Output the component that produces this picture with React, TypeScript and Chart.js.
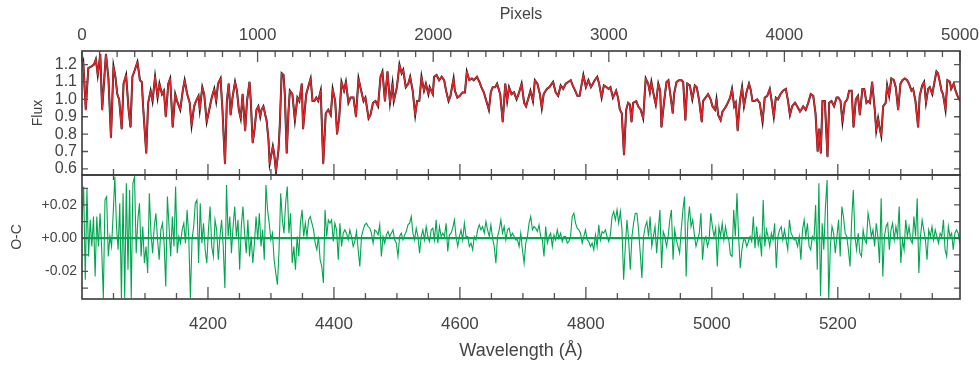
import React, { useEffect, useRef } from 'react';
import { Chart, registerables } from 'chart.js';

Chart.register(...registerables);

// ---------- Data ----------
// Flux spectrum (model in red drawn over the observed black spectrum)
const FLUX_WAVELENGTH = [
  4000, 4002, 4006, 4010, 4015, 4019, 4022, 4025, 4029, 4032, 4038, 4042, 4046, 4050, 4053, 4056, 4059, 4063, 4066, 4070,
  4074, 4077, 4080, 4084, 4088, 4092, 4095, 4097, 4102, 4105, 4109, 4112, 4116, 4120, 4123, 4127, 4130, 4133, 4137, 4140,
  4144, 4148, 4151, 4156, 4160, 4163, 4167, 4171, 4174, 4178, 4181, 4185, 4187, 4191, 4194, 4198, 4202, 4206, 4210, 4213,
  4216, 4220, 4223, 4227, 4230, 4233, 4236, 4239, 4243, 4246, 4249, 4252, 4255, 4259, 4262, 4266, 4268, 4271, 4274, 4277,
  4280, 4283, 4285, 4288, 4291, 4293, 4296, 4298, 4303, 4305, 4308, 4312, 4314, 4317, 4320, 4322, 4325, 4328, 4330, 4334,
  4338, 4342, 4345, 4349, 4351, 4356, 4359, 4363, 4366, 4369, 4372, 4375, 4379, 4383, 4387, 4391, 4395, 4398, 4402, 4405,
  4408.5, 4412, 4416, 4419, 4423, 4426.5, 4431, 4435, 4439, 4442, 4447, 4450, 4455, 4458, 4462, 4466, 4470, 4474, 4477, 4481,
  4485, 4489, 4493, 4495, 4500, 4504, 4507.5, 4510, 4514, 4518, 4521, 4525, 4529, 4532, 4535.5, 4539, 4543, 4546, 4550, 4552,
  4557, 4559, 4563, 4567, 4571, 4575, 4578, 4582, 4585, 4590, 4592, 4596, 4600, 4604, 4608, 4611, 4615, 4619, 4622, 4627,
  4631, 4634, 4638, 4642, 4646, 4649, 4652, 4656, 4659, 4664, 4668, 4672, 4675, 4678, 4682, 4686, 4690, 4694, 4698, 4702,
  4705, 4709, 4712, 4716, 4719, 4723, 4727, 4730, 4733, 4738, 4742, 4746, 4748, 4752, 4756, 4760, 4764, 4768, 4772, 4776,
  4779, 4783, 4786.5, 4790, 4793, 4796, 4800, 4804, 4808, 4811, 4814, 4818, 4821, 4825, 4828.6, 4833, 4836, 4839, 4843, 4848,
  4851, 4854, 4857, 4860.5, 4864, 4867, 4870, 4872.5, 4875, 4880, 4883, 4887, 4891, 4895, 4899, 4901.6, 4904, 4908, 4911, 4915,
  4918, 4920, 4924, 4928, 4931, 4934.4, 4938, 4940, 4944, 4948, 4952, 4954.5, 4958, 4961, 4965, 4969, 4973, 4976, 4980, 4984,
  4986, 4990, 4994, 4998, 5001, 5005, 5007.4, 5010, 5014, 5017, 5021, 5024, 5029, 5032, 5035.5, 5038, 5041, 5044.5, 5048, 5051,
  5055, 5059, 5061.4, 5064.6, 5068, 5072, 5076, 5080.5, 5084, 5088, 5092, 5095, 5098.4, 5101.6, 5105, 5109, 5113, 5117.5, 5121, 5124,
  5127.5, 5132, 5135.5, 5140, 5142, 5145, 5149, 5153, 5157, 5161, 5164.6, 5168, 5170.4, 5173, 5175.7, 5179.4, 5183.6, 5186.3, 5190, 5194,
  5198, 5201, 5204.3, 5207.4, 5211, 5215, 5218, 5222, 5225, 5228.6, 5232, 5235, 5239, 5242, 5245.5, 5248, 5251, 5254.5, 5258.7, 5261,
  5264, 5266.7, 5269, 5272, 5276, 5278.3, 5281.5, 5285, 5289, 5292, 5295.8, 5299.5, 5302.6, 5306.4, 5310, 5313, 5317, 5319.6, 5323.3, 5327.5,
  5330, 5334, 5337, 5340, 5343.4, 5346, 5350, 5354, 5356.6, 5359, 5362, 5364.6, 5367, 5371, 5374, 5378, 5380, 5384, 5387, 5391,
  5394.7,
];
const FLUX_VALUES = [
  1.19, 1.215, 0.94, 1.18, 1.19, 1.2, 1.23, 1.14, 1.26, 0.94, 1.26, 1.12, 0.78, 1.19, 1.13, 1.03, 1.0, 0.83, 1.09, 1.14,
  0.94, 0.84, 1.13, 1.17, 1.215, 1.11, 1.1, 0.96, 0.69, 0.98, 1.05, 0.99, 1.13, 1.01, 1.09, 1.03, 1.05, 0.9, 1.09, 1.12,
  0.84, 1.03, 0.99, 0.94, 1.05, 1.11, 1.03, 0.98, 0.85, 0.96, 0.99, 1.02, 0.94, 1.07, 1.03, 0.87, 0.94, 1.01, 1.06, 0.99,
  1.09, 1.12, 0.94, 0.63, 0.99, 1.09, 0.91, 1.01, 1.1, 1.05, 0.94, 0.89, 1.03, 0.82, 0.99, 1.1, 0.99, 0.75, 0.83, 0.94,
  0.96, 0.9, 0.94, 0.96, 0.91, 0.88, 0.77, 0.63, 0.73, 0.69, 0.585, 0.71, 0.85, 1.15, 1.14, 1.03, 0.69, 0.94, 1.05, 1.03,
  0.88, 1.01, 0.99, 1.09, 0.83, 1.03, 1.07, 1.12, 0.99, 0.99, 1.01, 0.99, 1.05, 0.63, 0.92, 0.94, 0.91, 1.06, 0.99, 0.8,
  0.9, 1.1, 1.05, 1.1, 0.98, 1.01, 1.01, 0.9, 1.12, 1.07, 0.99, 1.01, 0.89, 0.91, 0.98, 0.99, 0.96, 1.13, 1.16, 0.99,
  1.16, 0.98, 1.09, 0.99, 1.07, 1.2, 1.15, 1.17, 1.07, 1.09, 1.13, 1.05, 0.91, 0.99, 0.99, 1.13, 1.05, 1.09, 1.03, 1.07,
  1.03, 1.13, 1.14, 1.11, 1.13, 1.11, 1.05, 0.99, 1.02, 1.12, 1.05, 1.01, 1.02, 1.04, 1.04, 1.16, 1.11, 1.12, 1.11, 1.13,
  1.1, 1.07, 1.04, 0.99, 0.94, 1.04, 1.07, 1.07, 1.09, 1.03, 0.87, 1.09, 0.99, 1.07, 1.03, 1.04, 1.0, 1.04, 1.09, 0.98,
  0.96, 1.01, 1.05, 0.99, 1.11, 1.09, 1.03, 0.95, 1.03, 1.06, 1.07, 1.09, 1.1, 1.04, 1.02, 1.08, 1.06, 1.09, 1.1, 1.11,
  1.08, 1.05, 1.02, 1.02, 1.08, 1.14, 1.07, 1.11, 1.07, 1.09, 1.11, 1.13, 1.09, 1.01, 1.08, 1.07, 1.06, 1.07, 1.01, 1.05,
  1.01, 0.94, 0.92, 0.68, 0.94, 0.98, 0.97, 0.87, 0.98, 0.99, 0.96, 0.94, 0.89, 1.12, 1.09, 1.04, 1.1, 1.02, 0.97, 1.09,
  1.05, 0.84, 0.98, 1.1, 1.11, 1.02, 0.92, 1.03, 1.1, 1.11, 1.11, 1.1, 0.88, 1.09, 1.08, 1.0, 1.08, 1.07, 0.99, 0.87,
  0.99, 1.01, 1.03, 1.0, 0.96, 0.94, 1.0, 0.91, 0.88, 0.93, 0.95, 0.97, 1.01, 1.06, 0.96, 0.98, 0.82, 0.99, 1.07, 0.96,
  1.04, 1.09, 1.06, 0.99, 0.99, 1.0, 0.98, 0.87, 1.01, 1.02, 1.06, 0.99, 0.9, 1.01, 1.0, 1.03, 1.05, 1.06, 0.99, 0.91,
  0.96, 0.98, 0.96, 0.93, 0.94, 0.96, 0.94, 0.98, 1.03, 1.02, 0.92, 0.7, 0.83, 0.69, 0.99, 0.99, 0.67, 0.98, 0.99, 0.96,
  1.01, 1.01, 0.99, 0.87, 0.98, 1.0, 1.05, 1.05, 0.84, 1.0, 1.02, 0.91, 1.06, 1.06, 0.98, 0.99, 0.98, 1.1, 0.94, 0.82,
  0.89, 0.83, 0.79, 0.96, 0.98, 1.08, 1.02, 1.12, 1.11, 1.07, 0.94, 1.09, 1.11, 1.12, 1.11, 1.09, 1.05, 1.06, 0.99, 0.84,
  1.02, 1.08, 1.1, 0.98, 1.06, 1.07, 1.03, 1.11, 1.16, 1.15, 1.1, 1.05, 1.03, 0.94, 1.11, 1.1, 1.06, 1.09, 1.05, 1.01,
  0.99,
];

// O-C residuals, sampled on the detector's (uniform) pixel grid in three stretches
const RESID_SEGMENT_RANGES: [number, number][] = [[4000, 4393.7], [4396.3, 4899.5], [4902, 5393.7]];
const RESID_A = [
  0.011, 0.031, -0.025, 0.030, -0.011, 0.011, -0.005, 0.013, -0.023, 0.013, -0.005, 0.015, -0.007, -0.036, 0.023, 0.025, -0.011, 0.001, -0.005, 0.015,
  0.037, 0.007, -0.007, 0.021, -0.036, 0.027, -0.036, 0.033, -0.019, 0.029, -0.036, 0.033, 0.037, -0.009, 0.011, 0.021, -0.011, 0.007, -0.015, -0.005,
  -0.021, 0.027, 0.003, -0.009, 0.007, 0.015, -0.001, -0.013, 0.005, 0.009, -0.003, -0.029, 0.025, 0.007, -0.011, 0.013, -0.005, 0.031, -0.009, 0.001,
  -0.003, 0.005, 0.009, -0.003, 0.017, 0.001, -0.036, -0.001, 0.007, 0.021, 0.023, -0.015, 0.021, -0.003, 0.009, -0.007, -0.015, 0.005, 0.019, -0.005,
  -0.011, 0.011, 0.005, -0.013, 0.001, 0.011, -0.005, -0.030, 0.032, 0.001, 0.013, -0.009, 0.007, 0.019, 0.001, 0.011, -0.019, 0.007, 0.019, 0.003,
  -0.009, 0.011, -0.011, 0.001, -0.015, -0.003, 0.013, -0.001, 0.015, -0.005, 0.005, -0.013, 0.032, 0.017, 0.009, -0.001, 0.003, -0.013, -0.021, -0.028,
  -0.007, 0.027, 0.011, 0.003, 0.021, 0.031, 0.003, 0.015, -0.015, -0.005, -0.019, 0.001, -0.011, 0.009, 0.017, 0.001, 0.009, 0.001, 0.011, 0.013,
  0.009, 0.005, -0.003, -0.007, 0.001, -0.013, -0.017, -0.027, 0.017, 0.001, 0.011, 0.009,
];
const RESID_B = [
  0.011, -0.002, 0.009, 0.005, -0.013, 0.009, -0.005, 0.003, 0.005, 0.003, -0.001, 0.005, 0.001, -0.005, -0.002, 0.004, -0.007, -0.017, 0.001, 0.005,
  0.008, 0.009, 0.007, 0.006, 0.003, -0.003, 0.005, 0.004, 0.002, 0.008, -0.011, 0.001, -0.003, 0.002, 0.004, 0.001, 0.003, 0.005, -0.001, -0.003,
  -0.011, 0.001, 0.003, -0.001, 0.002, 0.004, 0.008, 0.009, 0.013, 0.003, -0.001, 0.006, 0.001, -0.009, 0.001, 0.005, -0.001, 0.007, 0.001, -0.002,
  0.005, 0.006, -0.001, 0.011, -0.003, 0.007, 0.001, 0.003, 0.001, 0.009, -0.008, 0.002, 0.003, 0.006, 0.011, 0.001, -0.005, 0.001, 0.005, -0.001,
  0.009, 0.001, 0.001, -0.005, -0.003, -0.007, 0.001, -0.001, 0.005, 0.008, 0.005, 0.007, 0.003, 0.010, 0.005, 0.001, 0.008, 0.000, -0.005, -0.015,
  0.001, 0.005, 0.011, 0.003, 0.007, -0.001, 0.005, 0.006, 0.001, 0.003, 0.001, -0.001, -0.001, -0.005, 0.003, -0.007, -0.015, -0.003, 0.001, 0.009,
  0.013, 0.005, 0.007, 0.006, 0.004, 0.008, 0.001, -0.001, -0.011, 0.007, -0.003, 0.001, 0.003, -0.005, 0.002, -0.001, 0.005, 0.000, 0.003, -0.002,
  0.001, 0.001, -0.003, -0.002, 0.001, 0.013, 0.015, 0.009, 0.006, 0.005, 0.003, -0.003, 0.001, 0.005, -0.001, -0.002, -0.005, -0.003, -0.007, 0.002,
  -0.005, 0.008, -0.001, 0.004, 0.003, 0.005, 0.001, -0.002, 0.002, 0.013, 0.016, 0.011, 0.017, 0.009, 0.016, 0.005, -0.025, -0.005, 0.011, -0.001,
  -0.019, 0.001, 0.009, 0.015, 0.015, 0.005, -0.009, -0.024, 0.001, 0.007, 0.010, 0.001,
];
const RESID_C = [
  0.013, -0.005, 0.001, 0.007, -0.009, 0.005, 0.017, -0.018, 0.004, 0.001, -0.005, 0.001, 0.011, 0.017, -0.013, 0.005, -0.001, -0.005, -0.009, 0.005,
  0.017, 0.025, -0.023, 0.009, 0.019, 0.007, 0.011, 0.002, -0.005, -0.001, 0.003, 0.015, -0.013, -0.001, 0.001, -0.005, -0.001, 0.015, 0.007, 0.001,
  0.006, -0.017, 0.007, 0.001, 0.009, -0.001, 0.007, 0.001, -0.001, -0.010, -0.011, 0.017, 0.001, 0.027, 0.001, -0.018, -0.007, -0.001, -0.001, -0.005,
  -0.002, 0.001, -0.002, 0.013, -0.006, 0.007, -0.004, 0.001, -0.011, 0.023, -0.005, 0.005, 0.001, -0.005, 0.003, -0.001, 0.009, -0.018, 0.001, 0.005,
  0.007, -0.001, 0.005, -0.001, -0.007, 0.011, 0.003, 0.001, -0.001, -0.001, -0.005, 0.001, -0.013, 0.005, 0.011, 0.001, 0.009, -0.005, -0.007, 0.001,
  -0.001, 0.020, -0.019, 0.033, -0.035, 0.009, -0.007, 0.019, 0.035, -0.037, -0.005, 0.007, 0.003, -0.009, 0.001, 0.011, -0.011, 0.019, 0.013, 0.003,
  0.001, -0.007, -0.017, 0.011, 0.029, 0.001, -0.007, 0.003, -0.009, -0.011, 0.005, -0.001, -0.003, 0.015, 0.009, 0.001, 0.005, -0.005, 0.009, 0.001,
  -0.015, 0.024, -0.023, 0.001, 0.007, 0.009, -0.007, 0.005, 0.009, -0.001, 0.007, 0.001, 0.019, -0.015, -0.001, -0.007, 0.011, 0.001, 0.007, -0.001,
  -0.003, 0.013, 0.001, 0.024, -0.021, 0.001, 0.011, 0.005, -0.001, -0.013, 0.005, 0.001, 0.007, -0.001, 0.005, 0.001, -0.003, 0.003, 0.001, 0.011,
  -0.007, -0.011, 0.007, 0.001, 0.003, -0.007, 0.003, 0.005, 0.003, -0.003,
];

// Axes
const WAVE_MIN = 4000;
const WAVE_MAX = 5394;
const WAVE_LABELS = [4200, 4400, 4600, 4800, 5000, 5200];
const WAVE_MINOR_STEP = 50;
const PIXEL_MIN = 0;
const PIXEL_MAX = 5000;
const PIXEL_LABELS = [0, 1000, 2000, 3000, 4000, 5000];
const PIXEL_MINOR_STEP = 100;
const FLUX_MIN = 0.565;
const FLUX_MAX = 1.278;
const FLUX_TICKS = [0.6, 0.7, 0.8, 0.9, 1.0, 1.1, 1.2];
const RESID_MIN = -0.0366;
const RESID_MAX = 0.038;
const RESID_LABELS = [-0.02, 0, 0.02];
const RESID_MINOR_TICKS = [-0.03, -0.02, -0.01, 0, 0.01, 0.02, 0.03];

// ---------- Styling ----------
const FONT = "'Liberation Sans', Arial, Helvetica, sans-serif";
const TEXT = '#444444';
const RED = '#e0262b';
const GREEN = '#00a651';
const FRAME = '#3a3a3a';

function stepValues(min: number, max: number, step: number): number[] {
  const out: number[] = [];
  for (let v = Math.ceil(min / step) * step; v <= max + 1e-9; v += step) out.push(Math.round(v * 1000) / 1000);
  return out;
}

type EdgeTicks = { scale: string; values: number[]; len: (v: number) => number };

function framePlugin(id: string, edges: { top?: EdgeTicks; bottom?: EdgeTicks; side: EdgeTicks }) {
  return {
    id,
    afterDatasetsDraw(chart: any) {
      const { ctx, chartArea: a } = chart;
      ctx.save();
      ctx.strokeStyle = '#555555';
      ctx.lineWidth = 1.3;
      ctx.beginPath();
      if (edges.top) {
        const s = chart.scales[edges.top.scale];
        for (const v of edges.top.values) {
          const x = s.getPixelForValue(v);
          ctx.moveTo(x, a.top);
          ctx.lineTo(x, a.top + edges.top.len(v));
        }
      }
      if (edges.bottom) {
        const s = chart.scales[edges.bottom.scale];
        for (const v of edges.bottom.values) {
          const x = s.getPixelForValue(v);
          ctx.moveTo(x, a.bottom);
          ctx.lineTo(x, a.bottom - edges.bottom.len(v));
        }
      }
      const ys = chart.scales[edges.side.scale];
      for (const v of edges.side.values) {
        const y = ys.getPixelForValue(v);
        ctx.moveTo(a.left, y);
        ctx.lineTo(a.left + edges.side.len(v), y);
        ctx.moveTo(a.right, y);
        ctx.lineTo(a.right - edges.side.len(v), y);
      }
      ctx.stroke();
      ctx.strokeStyle = FRAME;
      ctx.lineWidth = 1.6;
      ctx.strokeRect(a.left, a.top, a.right - a.left, a.bottom - a.top);
      ctx.restore();
    },
  };
}

const noPad = (s: any) => {
  s.paddingTop = 0;
  s.paddingBottom = 0;
  s.paddingLeft = 0;
  s.paddingRight = 0;
};

export default function App() {
  const topRef = useRef<HTMLCanvasElement>(null);
  const botRef = useRef<HTMLCanvasElement>(null);

  useEffect(() => {
    document.body.style.margin = '0';
    const waveTicks = stepValues(WAVE_MIN + 1, WAVE_MAX, WAVE_MINOR_STEP);
    const pixTicks = stepValues(PIXEL_MIN, PIXEL_MAX, PIXEL_MINOR_STEP);
    const fluxObserved = FLUX_WAVELENGTH.map((x, i) => ({ x, y: FLUX_VALUES[i] }));
    const fluxModel = FLUX_WAVELENGTH.map((x, i) => ({ x, y: FLUX_VALUES[i] }));

    const residPts: { x: number; y: number }[] = [];
    [RESID_A, RESID_B, RESID_C].forEach((seg, k) => {
      const [w0, w1] = RESID_SEGMENT_RANGES[k];
      seg.forEach((r, i) => residPts.push({ x: w0 + ((w1 - w0) * i) / (seg.length - 1), y: r }));
    });

    const top = new Chart(topRef.current!, {
      type: 'line',
      data: {
        datasets: [
          // drawn last (on top): red model
          { data: fluxModel, order: 1, borderColor: RED, borderWidth: 1.5, borderJoinStyle: 'round', pointRadius: 0, tension: 0, xAxisID: 'x', yAxisID: 'y' },
          // drawn first (underneath): black observed spectrum
          { data: fluxObserved, order: 2, borderColor: '#1a1a1a', borderWidth: 2.0, borderJoinStyle: 'miter', pointRadius: 0, tension: 0, xAxisID: 'x', yAxisID: 'y' },
        ],
      },
      options: {
        animation: false,
        responsive: false,
        events: [],
        layout: { padding: { top: 0, right: 20, bottom: 1, left: 0 } },
        plugins: { legend: { display: false }, tooltip: { enabled: false } },
        scales: {
          x: { type: 'linear', min: WAVE_MIN, max: WAVE_MAX, display: false, afterFit: noPad },
          xPix: {
            type: 'linear',
            axis: 'x',
            position: 'top',
            min: PIXEL_MIN,
            max: PIXEL_MAX,
            afterBuildTicks: (s: any) => { s.ticks = PIXEL_LABELS.map((v) => ({ value: v })); },
            afterFit: (s: any) => { s.height = 51; noPad(s); },
            ticks: { font: { family: FONT, size: 17 }, color: TEXT, padding: 5, maxRotation: 0, autoSkip: false, callback: (v: any) => String(v) },
            grid: { display: false, drawTicks: false },
            border: { display: false },
            title: { display: true, text: 'Pixels', font: { family: FONT, size: 16 }, color: TEXT, padding: { top: 5, bottom: 0 } },
          },
          y: {
            type: 'linear',
            min: FLUX_MIN,
            max: FLUX_MAX,
            afterBuildTicks: (s: any) => { s.ticks = FLUX_TICKS.map((v) => ({ value: v })); },
            afterFit: (s: any) => { s.width = 82; noPad(s); },
            ticks: { font: { family: FONT, size: 16 }, color: TEXT, padding: 5, autoSkip: false, callback: (v: any) => Number(v).toFixed(1) },
            grid: { display: false, drawTicks: false },
            border: { display: false },
            title: { display: true, text: 'Flux', font: { family: FONT, size: 14 }, color: TEXT, padding: { top: 30, bottom: 0 } },
          },
        },
      } as any,
      plugins: [
        framePlugin('frameTop', {
          top: { scale: 'xPix', values: pixTicks, len: (v) => (v % 1000 === 0 ? 11 : 6) },
          bottom: { scale: 'x', values: waveTicks, len: (v) => (v % 200 === 0 ? 11 : 6) },
          side: { scale: 'y', values: FLUX_TICKS, len: () => 6 },
        }),
      ],
    });

    const bot = new Chart(botRef.current!, {
      type: 'line',
      data: {
        datasets: [
          { data: [{ x: WAVE_MIN, y: 0 }, { x: WAVE_MAX, y: 0 }], order: 1, borderColor: GREEN, borderWidth: 2.2, pointRadius: 0 },
          { data: residPts, order: 2, borderColor: GREEN, borderWidth: 1.1, pointRadius: 0, tension: 0 },
        ],
      },
      options: {
        animation: false,
        responsive: false,
        events: [],
        layout: { padding: { top: 1, right: 20, bottom: 0, left: 0 } },
        plugins: { legend: { display: false }, tooltip: { enabled: false } },
        scales: {
          x: {
            type: 'linear',
            position: 'bottom',
            min: WAVE_MIN,
            max: WAVE_MAX,
            afterBuildTicks: (s: any) => { s.ticks = WAVE_LABELS.map((v) => ({ value: v })); },
            afterFit: (s: any) => { s.height = 66; noPad(s); },
            ticks: { font: { family: FONT, size: 17 }, color: TEXT, padding: 15, maxRotation: 0, autoSkip: false, callback: (v: any) => String(v) },
            grid: { display: false, drawTicks: false },
            border: { display: false },
            title: { display: true, text: 'Wavelength (Å)', font: { family: FONT, size: 18 }, color: TEXT, padding: { top: 0, bottom: 3 } },
          },
          y: {
            type: 'linear',
            min: RESID_MIN,
            max: RESID_MAX,
            afterBuildTicks: (s: any) => { s.ticks = RESID_LABELS.map((v) => ({ value: v })); },
            afterFit: (s: any) => { s.width = 82; noPad(s); },
            ticks: {
              font: { family: FONT, size: 14 },
              color: TEXT,
              padding: 5,
              autoSkip: false,
              callback: (v: any) => (Math.abs(v) < 1e-9 ? '+0.00' : (v > 0 ? '+' : '-') + Math.abs(v).toFixed(2)),
            },
            grid: { display: false, drawTicks: false },
            border: { display: false },
            title: { display: true, text: 'O-C', font: { family: FONT, size: 14 }, color: TEXT, padding: { top: 9, bottom: 0 } },
          },
        },
      } as any,
      plugins: [
        framePlugin('frameBot', {
          top: { scale: 'x', values: waveTicks, len: () => 5 },
          bottom: { scale: 'x', values: waveTicks, len: (v) => (v % 200 === 0 ? 12 : 6) },
          side: { scale: 'y', values: RESID_MINOR_TICKS, len: () => 6 },
        }),
      ],
    });

    return () => {
      top.destroy();
      bot.destroy();
    };
  }, []);

  return (
    <div style={{ position: 'relative', width: 980, height: 365, background: '#ffffff' }}>
      <canvas ref={topRef} width={980} height={176} style={{ position: 'absolute', left: 0, top: 0 }} />
      <canvas ref={botRef} width={980} height={191} style={{ position: 'absolute', left: 0, top: 174 }} />
    </div>
  );
}
